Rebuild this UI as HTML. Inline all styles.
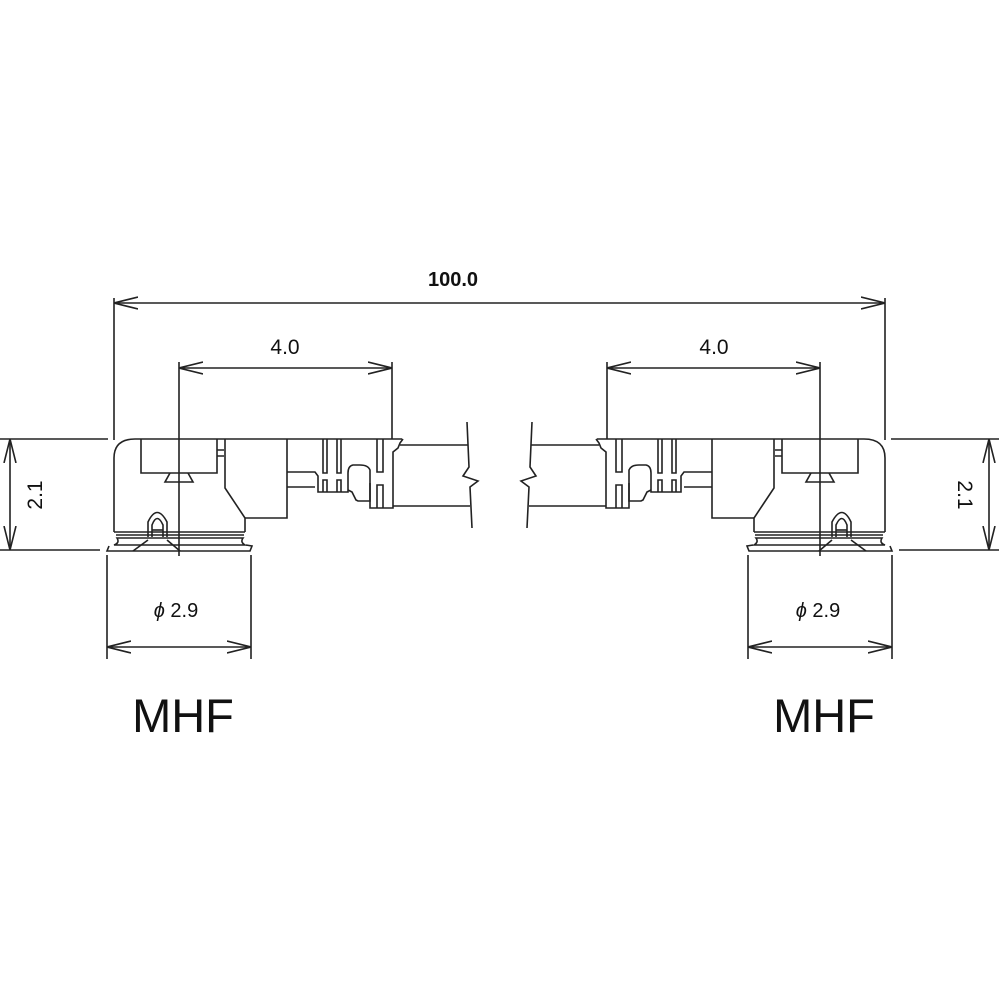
<!DOCTYPE html>
<html><head><style>
html,body{margin:0;padding:0;background:#fff;}
svg{display:block;}
text{font-family:"Liberation Sans",sans-serif;fill:#111;}
</style></head><body>
<svg width="1000" height="1000" viewBox="0 0 1000 1000" xmlns="http://www.w3.org/2000/svg">
<defs>
<marker id="a" viewBox="0 0 24 14" refX="24" refY="7" markerWidth="24" markerHeight="14" markerUnits="userSpaceOnUse" orient="auto-start-reverse">
<path d="M0 1 L24 7 L0 13" fill="none" stroke="#222" stroke-width="1.6"/>
</marker>
</defs>
<g stroke="#222" stroke-width="1.6" fill="none">
<line x1="114" y1="298" x2="114" y2="440"/>
<line x1="885" y1="298" x2="885" y2="440"/>
<line x1="114" y1="303" x2="885" y2="303" marker-start="url(#a)" marker-end="url(#a)"/>
</g>
<g id="L" stroke="#222" stroke-width="1.6" fill="none">
<line x1="179" y1="362" x2="179" y2="556"/>
<line x1="392" y1="362" x2="392" y2="439"/>
<line x1="179" y1="368" x2="392" y2="368" marker-start="url(#a)" marker-end="url(#a)"/>
<line x1="0" y1="439" x2="108" y2="439"/>
<line x1="0" y1="550" x2="100" y2="550"/>
<line x1="10" y1="439" x2="10" y2="550" marker-start="url(#a)" marker-end="url(#a)"/>
<line x1="107" y1="555" x2="107" y2="659"/>
<line x1="251" y1="555" x2="251" y2="659"/>
<line x1="107" y1="647" x2="251" y2="647" marker-start="url(#a)" marker-end="url(#a)"/>
<path d="M114 532 L114 458 Q114 439 135 439 L402 439"/>
<path d="M141 439 L141 473 L217 473 L217 439"/>
<path d="M170 473 L165 482 L193 482 L188 473"/>
<path d="M217 450 L224 450 M217 456 L224 456"/>
<path d="M225 439 L225 488 L245 518 L245 532"/>
<path d="M245 518 L287 518 L287 439"/>
<path d="M114 532 L245 532 M116 535 L244 535"/>
<path d="M117 538 Q120 543 114 545 L245 545 Q240 542 243 538 Z"/>
<path d="M109 546 L107 551 L111 551 L250 551 L252 546 L246 545"/>
<path d="M148 537 L148 522 Q157 503 167 522 L167 537"/>
<path d="M152 537 L152 525 Q157 512 163 525 L163 537"/>
<path d="M152 530 L163 530"/>
<path d="M148 540 L133 551 M167 540 L180 551"/>
<path d="M287 472 L315 472 L318 476 L318 492 L348 492 L348 473"/>
<path d="M287 487 L315 487"/>
<path d="M323 439 L323 473 L327 473 L327 439 M337 439 L337 473 L341 473 L341 439"/>
<path d="M323 492 L323 480 L327 480 L327 492 M337 492 L337 480 L341 480 L341 492"/>
<path d="M348 490 L352 492 L356 500 L358 501 L370 501 L370 470 Q368 465 360 465 L353 465 Q348 466 348 473"/>
<path d="M370 483 L370 508 L393 508 L393 452 L398 448 L400 443 L403 439"/>
<path d="M377 439 L377 472 L383 472 L383 439 M377 508 L377 485 L383 485 L383 508"/>
<path d="M400 445 L468 445 M393 506 L470 506"/>
<path d="M467 422 L469 467 L463 476 L478 481 L470 487 L472 528"/>
</g>
<use href="#L" transform="translate(999,0) scale(-1,1)"/>
<text x="453" y="286" font-size="20" text-anchor="middle" font-weight="bold">100.0</text>
<text x="285" y="354" font-size="21" text-anchor="middle">4.0</text>
<text x="714" y="354" font-size="21" text-anchor="middle">4.0</text>
<text transform="translate(42,495) rotate(-90)" font-size="21" text-anchor="middle">2.1</text>
<text transform="translate(958,495) rotate(90)" font-size="21" text-anchor="middle">2.1</text>
<text x="176" y="617" font-size="20" text-anchor="middle"><tspan font-style="italic">ϕ</tspan> 2.9</text>
<text x="818" y="617" font-size="20" text-anchor="middle"><tspan font-style="italic">ϕ</tspan> 2.9</text>
<text x="183" y="732" font-size="47" text-anchor="middle">MHF</text>
<text x="824" y="732" font-size="47" text-anchor="middle">MHF</text>
</svg>
</body></html>
